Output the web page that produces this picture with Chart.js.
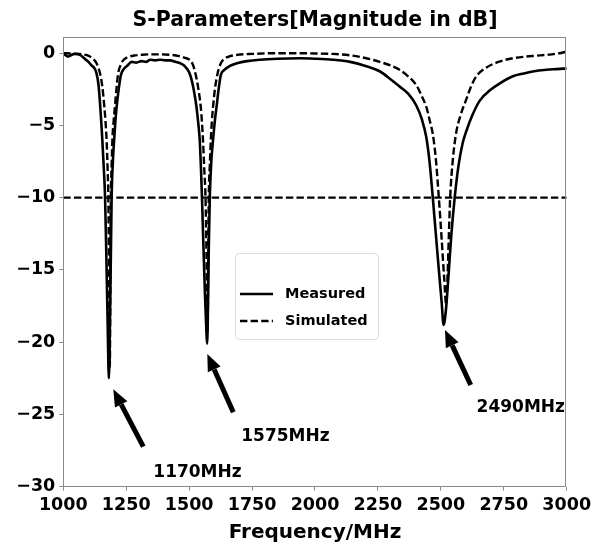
<!DOCTYPE html>
<html>
<head>
<meta charset="utf-8">
<script src="https://cdn.jsdelivr.net/npm/chart.js@4"></script>
<style>
    html, body { margin: 0; padding: 0; background: #ffffff; }
    #wrap { width: 602px; height: 545px; }
</style>
</head>
<body>
<div id="wrap"><canvas id="sparamChart" width="602" height="545"></canvas></div>
<script>
// Measured S11 (MHz, dB)
const measuredFreq = [1000, 1010, 1020, 1032, 1046, 1066, 1086, 1100, 1112, 1124, 1132, 1140, 1146, 1151, 1155, 1161, 1166, 1171, 1176, 1181,
    1185, 1189, 1192, 1197, 1202, 1207, 1212, 1220, 1229, 1240, 1255, 1271, 1290, 1310, 1330, 1345, 1365, 1385, 1405, 1425,
    1445, 1465, 1480, 1492, 1502, 1512, 1521, 1529, 1536, 1542, 1547, 1551, 1557, 1563, 1568, 1571, 1574, 1578, 1582, 1588,
    1595, 1602, 1609, 1617, 1626, 1640, 1660, 1690, 1730, 1780, 1850, 1940, 2000, 2071, 2140, 2204, 2257, 2300, 2336, 2370,
    2402, 2425, 2442, 2455, 2468, 2480, 2492, 2503, 2511, 2520, 2530, 2542, 2555, 2570, 2587, 2601, 2625, 2654, 2700, 2733,
    2786, 2830, 2865, 2920, 2960, 3000];
const measuredDb = [-0.05, -0.15, -0.23, -0.12, -0.05, -0.12, -0.4, -0.6, -0.85, -1.05, -1.4, -2.2, -3.5, -4.8, -6, -8, -10, -14, -18.5, -22.5,
    -19, -14, -10, -7.5, -6, -4.7, -3.7, -2.5, -1.5, -1.1, -0.85, -0.6, -0.65, -0.55, -0.6, -0.45, -0.5, -0.45, -0.5, -0.5,
    -0.6, -0.7, -0.85, -1.1, -1.4, -2.0, -2.8, -3.7, -4.8, -6, -8, -10, -13.5, -16.8, -19, -20.1, -18.5, -13.5, -10, -7.5,
    -6, -4.7, -3.7, -2.5, -1.5, -1.15, -0.9, -0.7, -0.55, -0.45, -0.38, -0.35, -0.38, -0.45, -0.6, -0.9, -1.25, -1.8, -2.3, -2.8,
    -3.6, -4.6, -5.8, -7.5, -10, -12.5, -15, -17.2, -18.8, -17.8, -15.5, -12.5, -10, -7.8, -6.2, -5.4, -4.3, -3.3, -2.5, -2.1,
    -1.6, -1.4, -1.27, -1.15, -1.1, -1.05];

// Simulated S11 (MHz, dB)
const simulatedFreq = [1000, 1030, 1066, 1090, 1106, 1119, 1132, 1146, 1155, 1163, 1168, 1172, 1176, 1179, 1182, 1185, 1187, 1189, 1192, 1195,
    1200, 1205, 1211, 1218, 1228, 1240, 1260, 1285, 1304, 1340, 1384, 1430, 1460, 1480, 1502, 1515, 1525, 1536, 1546, 1551,
    1555, 1560, 1565, 1569, 1573, 1576, 1578, 1582, 1586, 1590, 1595, 1603, 1613, 1622, 1635, 1655, 1690, 1750, 1850, 1940,
    2000, 2071, 2140, 2204, 2257, 2300, 2336, 2370, 2402, 2425, 2442, 2455, 2468, 2480, 2492, 2503, 2513, 2521, 2527, 2532,
    2537, 2548, 2561, 2580, 2601, 2620, 2641, 2680, 2733, 2786, 2865, 2930, 2971, 2985, 3000];
const simulatedDb = [0, -0.02, -0.05, -0.12, -0.23, -0.4, -0.7, -1.4, -2.3, -3.7, -4.8, -6, -8, -10, -15, -21.7, -15, -10, -7.8, -6,
    -4.7, -3.7, -2.5, -1.4, -0.8, -0.45, -0.25, -0.15, -0.12, -0.08, -0.08, -0.12, -0.2, -0.3, -0.46, -0.8, -1.4, -2.4, -3.7, -4.8,
    -6, -8, -10, -14, -19.4, -14, -10, -7.8, -6, -4.8, -3.7, -2.4, -1.4, -0.85, -0.46, -0.25, -0.12, -0.05, 0, 0,
    -0.02, -0.05, -0.15, -0.35, -0.6, -0.85, -1.15, -1.6, -2.2, -3.0, -3.7, -4.6, -5.6, -7.3, -10, -12.8, -15.5, -17.4, -15.2, -12.5,
    -10, -7.3, -5.5, -4.2, -3.2, -2.3, -1.6, -1.0, -0.58, -0.35, -0.19, -0.1, 0, 0.05, 0.12];

const thresholdDb = -10;
const xTicks = [1000, 1250, 1500, 1750, 2000, 2250, 2500, 2750, 3000];
const yTicks = [0, -5, -10, -15, -20, -25, -30];

// Resonance call-outs: label, arrow tip, arrow tail, text anchor (left, middle) in data units
const noteLabels = ['1170MHz', '1575MHz', '2490MHz'];
const noteTips = [[1198.6, -23.26], [1572.1, -20.81], [2516.5, -19.15]];
const noteTails = [[1317.8, -27.23], [1675.4, -24.85], [2618.6, -22.96]];
const noteText = [[1357.6, -29.0], [1707, -26.5], [2642, -24.5]];

const FONT = "'DejaVu Sans', sans-serif";
const FRAME_COLOR = '#8a8a8a';

function toPoints(xs, ys) {
    return xs.map((x, i) => ({ x: x, y: ys[i] }));
}

function drawArrow(ctx, x0, y0, x1, y1) {
    const ang = Math.atan2(y1 - y0, x1 - x0);
    const headLen = 17, headW = 14;
    const bx = x1 - headLen * Math.cos(ang);
    const by = y1 - headLen * Math.sin(ang);
    ctx.save();
    ctx.strokeStyle = '#000';
    ctx.fillStyle = '#000';
    ctx.lineWidth = 5;
    ctx.beginPath();
    ctx.moveTo(x0, y0);
    ctx.lineTo(bx, by);
    ctx.stroke();
    ctx.beginPath();
    ctx.moveTo(x1, y1);
    ctx.lineTo(bx + headW / 2 * Math.sin(ang), by - headW / 2 * Math.cos(ang));
    ctx.lineTo(bx - headW / 2 * Math.sin(ang), by + headW / 2 * Math.cos(ang));
    ctx.closePath();
    ctx.fill();
    ctx.restore();
}

// frame, call-outs and the boxed legend inside the plot
const decorPlugin = {
    id: 'decor',
    afterDraw(chart) {
        const ctx = chart.ctx;
        const area = chart.chartArea;
        const xs = chart.scales.x;
        const ys = chart.scales.y;

        ctx.save();
        ctx.strokeStyle = FRAME_COLOR;
        ctx.lineWidth = 1;
        ctx.strokeRect(Math.round(area.left) + 0.5, Math.round(area.top) + 0.5,
            Math.round(area.right - area.left) - 1, Math.round(area.bottom - area.top));
        ctx.restore();

        noteLabels.forEach((label, i) => {
            drawArrow(ctx,
                xs.getPixelForValue(noteTails[i][0]), ys.getPixelForValue(noteTails[i][1]),
                xs.getPixelForValue(noteTips[i][0]), ys.getPixelForValue(noteTips[i][1]));
            ctx.save();
            ctx.font = 'bold 17px ' + FONT;
            ctx.fillStyle = '#000';
            ctx.textAlign = 'left';
            ctx.textBaseline = 'middle';
            ctx.fillText(label, xs.getPixelForValue(noteText[i][0]), ys.getPixelForValue(noteText[i][1]));
            ctx.restore();
        });

        // legend box
        const boxX = 235, boxY = 253, boxW = 143, boxH = 86;
        ctx.save();
        ctx.fillStyle = 'rgba(255,255,255,0.85)';
        ctx.strokeStyle = '#dcdcdc';
        ctx.lineWidth = 1;
        ctx.beginPath();
        ctx.roundRect(boxX + 0.5, boxY + 0.5, boxW, boxH, 4);
        ctx.fill();
        ctx.stroke();
        const entries = chart.data.datasets.filter(d => d.label);
        entries.forEach((ds, i) => {
            const y = 294 + i * 27;
            ctx.strokeStyle = ds.borderColor;
            ctx.lineWidth = ds.borderWidth;
            ctx.setLineDash(ds.borderDash || []);
            ctx.beginPath();
            ctx.moveTo(240, y);
            ctx.lineTo(273, y);
            ctx.stroke();
            ctx.setLineDash([]);
            ctx.font = 'bold 14.5px ' + FONT;
            ctx.fillStyle = '#000';
            ctx.textAlign = 'left';
            ctx.textBaseline = 'middle';
            ctx.fillText(ds.label, 285, y);
        });
        ctx.restore();
    }
};

const ctx = document.getElementById('sparamChart').getContext('2d');
new Chart(ctx, {
    type: 'line',
    data: {
        datasets: [{
            label: 'Measured',
            data: toPoints(measuredFreq, measuredDb),
            borderColor: '#000000',
            borderWidth: 2.6,
            pointRadius: 0,
            cubicInterpolationMode: 'monotone'
        }, {
            label: 'Simulated',
            data: toPoints(simulatedFreq, simulatedDb),
            borderColor: '#000000',
            borderWidth: 2.4,
            borderDash: [7.4, 3.2],
            pointRadius: 0,
            cubicInterpolationMode: 'monotone'
        }, {
            label: '',
            data: toPoints([xTicks[0], xTicks[xTicks.length - 1]], [thresholdDb, thresholdDb]),
            borderColor: '#000000',
            borderWidth: 2.2,
            borderDash: [7.4, 3.2],
            pointRadius: 0
        }]
    },
    options: {
        responsive: false,
        animation: false,
        devicePixelRatio: 1,
        layout: { padding: { left: 0, right: 35.3, top: 0, bottom: 0 } },
        plugins: {
            legend: { display: false },
            tooltip: { enabled: false },
            title: {
                display: true,
                fullSize: false,
                text: 'S-Parameters[Magnitude in dB]',
                color: '#000',
                font: { family: FONT, size: 20.5, weight: 'bold' },
                padding: { top: 8, bottom: 4.7 }
            }
        },
        scales: {
            x: {
                type: 'linear',
                min: 1000,
                max: 3000,
                afterBuildTicks: axis => { axis.ticks = xTicks.map(v => ({ value: v })); },
                afterFit: axis => { axis.height = 58.3; axis.paddingLeft = 0; axis.paddingRight = 0; },
                border: { display: false },
                grid: { drawOnChartArea: false, drawTicks: true, tickLength: 4, color: FRAME_COLOR },
                ticks: {
                    color: '#000',
                    padding: 4,
                    maxRotation: 0,
                    font: { family: FONT, size: 17.5, weight: 'bold' },
                    callback: v => String(v)
                },
                title: {
                    display: true,
                    text: 'Frequency/MHz',
                    color: '#000',
                    font: { family: FONT, size: 20, weight: 'bold' },
                    padding: { top: 2, bottom: 0 }
                }
            },
            y: {
                type: 'linear',
                min: -30,
                max: 1.1,
                afterBuildTicks: axis => { axis.ticks = yTicks.map(v => ({ value: v })); },
                afterFit: axis => { axis.width = 63.3; axis.paddingTop = 0; axis.paddingBottom = 0; },
                border: { display: false },
                grid: { drawOnChartArea: false, drawTicks: true, tickLength: 4, color: FRAME_COLOR },
                ticks: {
                    color: '#000',
                    padding: 4,
                    font: { family: FONT, size: 17.5, weight: 'bold' },
                    callback: v => (v < 0 ? '\u2212' + Math.abs(v) : String(v))
                }
            }
        }
    },
    plugins: [decorPlugin]
});
</script>
</body>
</html>
